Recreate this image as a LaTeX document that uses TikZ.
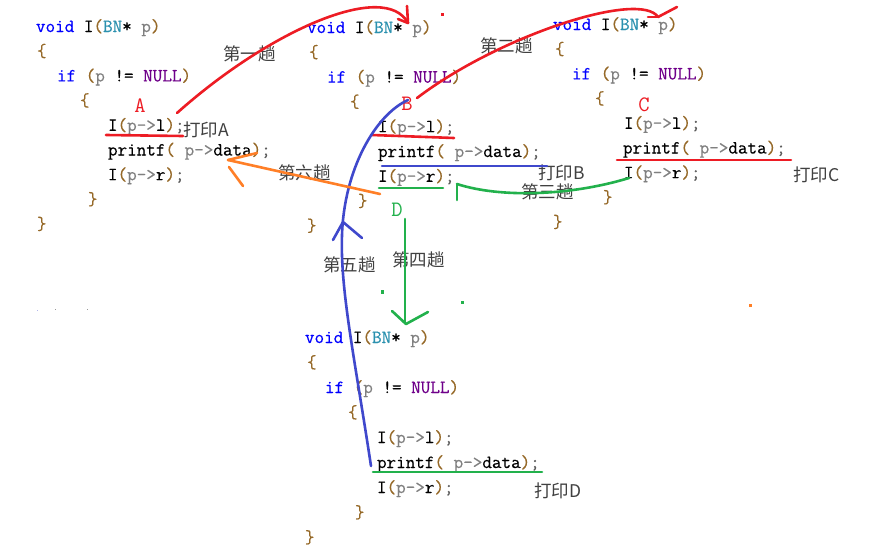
\documentclass[tikz,border=0pt]{standalone}
\usepackage{fontspec}
\newfontfamily\codefont[FakeBold=0.45]{Latin Modern Mono}
\newfontfamily\tagfont{Latin Modern Mono}
\newfontfamily\cjkfont{Noto Sans CJK SC}
\definecolor{ckw}{RGB}{0,0,255}
\definecolor{ctyp}{RGB}{43,145,175}
\definecolor{cgry}{RGB}{128,128,128}
\definecolor{cnul}{RGB}{111,0,138}
\definecolor{cprn}{RGB}{150,105,40}
\definecolor{csmc}{RGB}{90,90,90}
\definecolor{pred}{RGB}{237,28,36}
\definecolor{pgreen}{RGB}{34,177,76}
\definecolor{pblue}{RGB}{63,72,204}
\definecolor{porange}{RGB}{255,127,39}
\newcommand\kwd[1]{\textcolor{ckw}{#1}}
\newcommand\typ[1]{\textcolor{ctyp}{#1}}
\newcommand\gry[1]{\textcolor{cgry}{#1}}
\newcommand\nll[1]{\textcolor{cnul}{#1}}
\newcommand\prn[1]{\textcolor{cprn}{#1}}
\newcommand\smc[1]{\textcolor{csmc}{#1}}
\newcommand\cdVoid{\kwd{void} I\prn{(}\typ{BN}*\ \gry{p}\prn{)}}
\newcommand\cdIf{\kwd{if} \prn{(}\gry{p} != \nll{NULL}\prn{)}}
\newcommand\cdL{I\prn{(}\gry{p->}l\prn{)}\smc{;}}
\newcommand\cdP{printf\prn{(} \gry{p->}data\prn{)}\smc{;}}
\newcommand\cdR{I\prn{(}\gry{p->}r\prn{)}\smc{;}}
\newcommand\cdOb{\prn{\{}}
\newcommand\cdCb{\prn{\}}}
\tikzset{
  code/.style={anchor=base west, inner sep=0pt, outer sep=0pt,
    font=\codefont\fontsize{18.6pt}{20pt}\selectfont, text=black},
  lbl/.style={anchor=west, inner sep=0pt, outer sep=0pt,
    font=\cjkfont\fontsize{17.5pt}{18pt}\selectfont, text=black!75},
  tag/.style={anchor=base, inner sep=0pt, outer sep=0pt,
    font=\tagfont\fontsize{22pt}{22pt}\selectfont},
  pen/.style={line width=2.6pt, line cap=round, line join=round},
}
\begin{document}
\begin{tikzpicture}[x=1pt,y=-1pt]
\fill[white] (0,0) rectangle (873,555);
\useasboundingbox (0,0) rectangle (873,555);

% ---------- block 1 ----------
\node[code] (b1v)  at (36,32)    {\cdVoid};
\node[code] (b1o)  at (37,56.7)  {\cdOb};
\node[code] (b1if) at (57,81.4)  {\cdIf};
\node[code] (b1o2) at (80,106.1) {\cdOb};
\node[code] (b1l)  at (108,130.8){\cdL};
\node[code] (b1p)  at (108,155.5){\cdP};
\node[code] (b1r)  at (108,180.2){\cdR};
\node[code] (b1c2) at (88,204.9) {\cdCb};
\node[code] (b1c)  at (37,229.6) {\cdCb};

% ---------- block 2 ----------
\node[code] (b2v)  at (307,33)    {\cdVoid};
\node[code] (b2o)  at (309,57.8)  {\cdOb};
\node[code] (b2if) at (327,82.6)  {\cdIf};
\node[code] (b2o2) at (350,107.4) {\cdOb};
\node[code] (b2l)  at (378,132.2) {\cdL};
\node[code] (b2p)  at (378,157)   {\cdP};
\node[code] (b2r)  at (378,181.8) {\cdR};
\node[code] (b2c2) at (358,206.6) {\cdCb};
\node[code] (b2c)  at (307,231.4) {\cdCb};

% ---------- block 3 ----------
\node[code] (b3v)  at (553,30)    {\cdVoid};
\node[code] (b3o)  at (555,54.7)  {\cdOb};
\node[code] (b3if) at (572,79.4)  {\cdIf};
\node[code] (b3o2) at (595,104.1) {\cdOb};
\node[code] (b3l)  at (624,128.8) {\cdL};
\node[code] (b3p)  at (623,153.5) {\cdP};
\node[code] (b3r)  at (624,178.2) {\cdR};
\node[code] (b3c2) at (603,202.9) {\cdCb};
\node[code] (b3c)  at (553,227.6) {\cdCb};

% ---------- block 4 ----------
\node[code] (b4v)  at (305,343) {\cdVoid};
\node[code] (b4o)  at (307,368) {\cdOb};
\node[code] (b4if) at (325,393) {\cdIf};
\node[code] (b4o2) at (348,418) {\cdOb};
\node[code] (b4l)  at (377,443) {\cdL};
\node[code] (b4p)  at (377,468) {\cdP};
\node[code] (b4r)  at (377,493) {\cdR};
\node[code] (b4c2) at (355,518) {\cdCb};
\node[code] (b4c)  at (305,543) {\cdCb};

% ---------- tags ----------
\node[tag, text=pred]   (tA) at (140,112) {A};
\node[tag, text=pred]   (tB) at (407,110) {B};
\node[tag, text=pred]   (tC) at (644,111) {C};
\node[tag, text=pgreen] (tD) at (397,216) {D};

% ---------- labels ----------
\node[lbl] (l1) at (223,54)  {第一趟};
\node[lbl] (l2) at (480,46)  {第二趟};
\node[lbl] (l3) at (521,192) {第三趟};
\node[lbl] (l4) at (392,260) {第四趟};
\node[lbl] (l5) at (323,265) {第五趟};
\node[lbl] (l6) at (278,173) {第六趟};
\node[lbl] (pA) at (183,130) {打印A};
\node[lbl] (pB) at (538,173) {打印B};
\node[lbl] (pC) at (793,175) {打印C};
\node[lbl] (pD) at (534,491) {打印D};

% ---------- underlines ----------
\draw[pen, pred]   (106,135) -- (183,136);
\draw[pen, pred]   (372,135) -- (454,138);
\draw[pen, pblue]  (382,166) -- (547,166);
\draw[pen, pgreen] (379,188) -- (443,188);
\draw[pen, pred]   (617,160) -- (791,160);
\draw[pen, pgreen] (373,472) -- (542,472);

% ---------- arrows ----------
% first pass (red)
\coordinate (r1s) at (177,113);
\coordinate (r1t) at (408,23);
\draw[pen, pred] (r1s) .. controls (270,30) and (385,-20) .. (r1t);
\draw[pen, pred] (r1t) -- (407,6);
\draw[pen, pred] (r1t) -- (398,19);
% second pass (red)
\coordinate (r2s) at (417,98);
\coordinate (r2t) at (658,17);
\draw[pen, pred] (r2s) .. controls (500,35) and (640,-10) .. (r2t);
\draw[pen, pred] (r2t) -- (648,17);
\draw[pen, pred] (r2t) -- (677,7);
% third pass (green)
\coordinate (g3s) at (629,178);
\coordinate (g3t) at (457,184);
\draw[pen, pgreen] (g3s) .. controls (570,196) and (500,198) .. (g3t);
\draw[pen, pgreen] (g3t) -- (457,200);
% fourth pass (green)
\coordinate (g4s) at (405,219);
\coordinate (g4t) at (406,324);
\draw[pen, pgreen] (g4s) -- (405,322);
\draw[pen, pgreen] (392,311) -- (g4t) -- (428,312);
% fifth pass (blue)
\coordinate (b5s) at (371,466);
\coordinate (b5m) at (342,235);
\coordinate (b5t) at (408,100);
\draw[pen, pblue] (b5s) .. controls (355,360) and (340,290) .. (b5m)
  .. controls (344,170) and (375,115) .. (b5t);
\draw[pen, pblue] (333,240) -- (343,222) -- (362,238);
% sixth pass (orange)
\coordinate (o6s) at (380,194);
\coordinate (o6t) at (228,160);
\draw[pen, porange] (o6s) -- (o6t);
\draw[pen, porange] (o6t) -- (257,153);
\draw[pen, porange] (229,167) -- (243,186);

% ---------- stray dots ----------
\fill[pred]    (440.5,12.5) rectangle (443.5,15.5);
\fill[pgreen]  (381,290) rectangle (383.5,294);
\fill[pgreen]  (461,301) rectangle (464,304);
\fill[porange] (749,304) rectangle (752,307);
\fill[pblue!40] (36.5,309.5) rectangle (37.5,310.5);
\fill[black!40] (54.5,308.5) rectangle (55.5,310);
\fill[black!40] (86.5,308.5) rectangle (87.5,310);
\end{tikzpicture}
\end{document}
